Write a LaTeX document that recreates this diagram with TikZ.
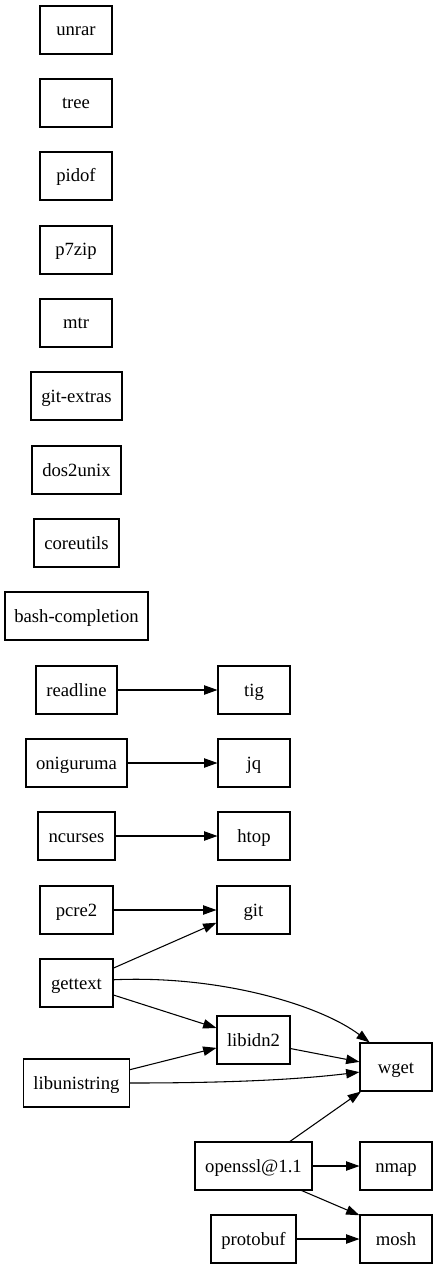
\documentclass[tikz,border=0pt]{standalone}
\usepackage{fontspec}
\setmainfont{Liberation Serif}
\usetikzlibrary{arrows.meta}
\begin{document}
\begin{tikzpicture}[x=0.75pt,y=-0.75pt,
  pk/.style={draw, line width=0.8pt, minimum height=36pt, inner sep=0pt,
    text height=11pt, text depth=2pt,
    minimum width=#1*0.75pt, font=\fontsize{14}{16}\selectfont},
  pk/.default=72,
  dep/.style={line width=0.8pt, -{Triangle[length=10pt,width=7pt]}}]
\useasboundingbox (0,0) rectangle (437,1269);
\node[pk] (unrar) at (76,30) {unrar};
\node[pk] (tree) at (76,103) {tree};
\node[pk] (pidof) at (76,176) {pidof};
\node[pk] (p7zip) at (76,250) {p7zip};
\node[pk] (mtr) at (76,323) {mtr};
\node[pk=91] (gitextras) at (76.5,396) {git-extras};
\node[pk=89] (dos2unix) at (76.5,470) {dos2unix};
\node[pk=85] (coreutils) at (76.5,543) {coreutils};
\node[pk=143] (bashcompletion) at (76.5,616) {bash-completion};
\node[pk=81] (readline) at (76.5,690) {readline};
\node[pk=101] (oniguruma) at (76.5,763) {oniguruma};
\node[pk=77] (ncurses) at (76.5,836) {ncurses};
\node[pk=73] (pcre2) at (76.5,910) {pcre2};
\node[pk=73] (gettext) at (76.5,983) {gettext};
\node[pk=106] (libunistring) at (76.5,1083) {libunistring};
\node[pk] (tig) at (254,690) {tig};
\node[pk] (jq) at (254,763) {jq};
\node[pk] (htop) at (254,836) {htop};
\node[pk=73] (git) at (253.5,910) {git};
\node[pk=73] (libidn2) at (253.5,1040) {libidn2};
\node[pk=117] (openssl) at (253.5,1166) {openssl@1.1};
\node[pk=85] (protobuf) at (253.5,1239) {protobuf};
\node[pk] (wget) at (396,1067) {wget};
\node[pk] (nmap) at (396,1166) {nmap};
\node[pk] (mosh) at (396,1239) {mosh};
\draw[dep] (readline) -- (tig);
\draw[dep] (oniguruma) -- (jq);
\draw[dep] (ncurses) -- (htop);
\draw[dep] (pcre2) -- (git);
\draw[dep] (gettext.22) -- (git.199);
\draw[dep] (gettext.342) -- (libidn2.162);
\draw[dep] (gettext.5) .. controls (220,975) and (320,1005) .. (wget.137);
\draw[dep] (libunistring.14) -- (libidn2.192);
\draw[dep] (libunistring.east) .. controls (250,1083) and (310,1078) .. (wget.188);
\draw[dep] (libidn2.347) -- (wget.172);
\draw[dep] (openssl.34) -- (wget.215);
\draw[dep] (openssl) -- (nmap);
\draw[dep] (openssl.333) -- (mosh.147);
\draw[dep] (protobuf) -- (mosh);
\end{tikzpicture}
\end{document}
